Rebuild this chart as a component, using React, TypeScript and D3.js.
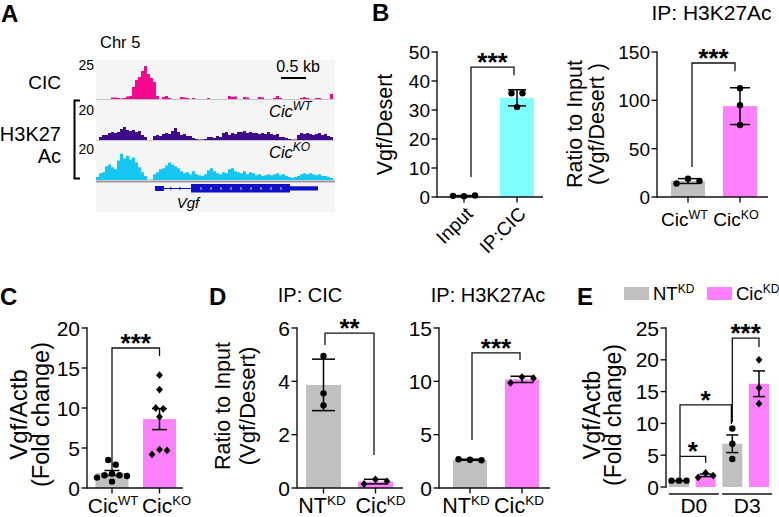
import React from 'react';
import * as d3 from 'd3';

const FONT = "'Liberation Sans', Arial, Helvetica, sans-serif";

// ---------------- Panel A data (genome browser tracks) ----------------
const trackBinKb = 0.06;
const trackSpanKb = 4.74;
const cicTrackMax = 25;
const acTrackMax = 20;
const cicTrack = [
  0, 0, 0, 0, 0, 1.0, 1.0, 0.6, 0.3, 0.6,
  1.6, 1.9, 7.7, 12.2, 14.1, 17.9, 21.1, 16.0, 13.4, 10.9,
  1.9, 0, 1.3, 1.9, 0.6, 0, 0, 0, 1.3, 1.0,
  0.6, 0, 0.6, 0, 0, 0, 0, 0.6, 0, 0,
  0, 0, 0, 0, 1.9, 1.3, 1.6, 0, 0, 1.3,
  1.0, 0, 0, 0, 1.3, 1.0, 0, 0, 0, 0.6,
  1.9, 0.6, 0, 0, 0, 0, 0, 0, 0.6, 1.3,
  0.6, 0, 0, 0.6, 0.6, 0, 0, 0, 3.2,
];
const wtTrack = [
  0, 1.5, 2.5, 2.5, 3.5, 4, 3.5, 4, 5.5, 6.5,
  5, 4.5, 5, 4, 4.5, 2.5, 1.5, 0, 0, 2,
  2.5, 2, 3, 3.5, 3, 4.5, 6, 4, 2.5, 3,
  2, 2, 1, 0.5, 0.3, 0.3, 0.5, 1.5, 1.5, 1,
  2, 1.5, 3.5, 4, 2.5, 3.5, 3, 4, 4, 4.5,
  3.5, 4, 3.5, 3.5, 3, 3.5, 3, 4, 3, 2.5,
  3, 1.5, 1.5, 1, 0.5, 0.3, 0.3, 2.5, 3.5, 3,
  3.5, 3, 2.5, 3, 3.5, 2.5, 3, 2, 1.5,
];
const koTrack = [
  1.5, 3.5, 4, 7, 8, 6.5, 5.5, 10, 13.5, 11,
  12.5, 10.5, 11.5, 9, 6.5, 4, 2, 0, 0.3, 3,
  4, 5.5, 6, 7.5, 9, 8, 7, 6, 4.5, 3.5,
  4, 3, 4.5, 3, 2.5, 2, 3, 5, 6, 4.5,
  3.5, 3, 4, 3.5, 5.5, 6, 4.5, 4, 3.5, 4.5,
  3, 4, 3.5, 2.5, 3, 2, 2.5, 3, 2.5, 3,
  3.5, 2.5, 3, 2, 1.5, 1, 1.5, 2, 3, 3.5,
  3, 3.5, 3, 2.5, 3, 2, 2, 1.5, 1,
];
const geneUtr5 = [1.18, 1.36];
const geneCds = [1.9, 3.88];
const geneUtr3 = [3.88, 4.44];
const scaleBarStartKb = 3.7;
const scaleBarKb = 0.5;

// ---------------- Panel B ----------------
const bInputCats = ['Input', 'IP:CIC'];
const bInputValues = [[0.3, 0.5, 0.4], [35.8, 35.8, 31.0]];
const bInputTicks = [0, 10, 20, 30, 40, 50];

const bAcCats = ['CicWT', 'CicKO'];
const bAcLabels: [string, string][] = [['Cic', 'WT'], ['Cic', 'KO']];
const bAcValues = [[19, 16.5, 14], [112.5, 95, 74.5]];
const bAcTicks = [0, 50, 100, 150];

// ---------------- Panel C ----------------
const cCats = ['CicWT', 'CicKO'];
const cLabels: [string, string][] = [['Cic', 'WT'], ['Cic', 'KO']];
const cValues = [
  [3.5, 2.9, 1.8, 1.6, 1.6, 1.5, 1.3, 0.8],
  [14.1, 12.3, 10.0, 9.9, 8.9, 4.8, 4.7, 4.2],
];
const cTicks = [0, 5, 10, 15, 20];

// ---------------- Panel D ----------------
const dCats = ['NTKD', 'CicKD'];
const dLabels: [string, string][] = [['NT', 'KD'], ['Cic', 'KD']];
const dCicValues = [[4.95, 3.55, 3.1], [0.32, 0.25, 0.15]];
const dCicTicks = [0, 2, 4, 6];
const dAcValues = [[2.65, 2.6, 2.7], [10.4, 10.3, 9.85]];
const dAcTicks = [0, 5, 10, 15];

// ---------------- Panel E ----------------
const eCats = ['NT-D0', 'Cic-D0', 'NT-D3', 'Cic-D3'];
const eGroups = ['D0', 'D3'];
const eValues = [[1, 1, 1], [2.2, 1.8, 1.5], [9.2, 6.8, 4.4], [20.0, 15.6, 13.1]];
const eTicks = [0, 5, 10, 15, 20, 25];
const eLegend: [string, string][] = [['NT', 'KD'], ['Cic', 'KD']];

const GRAY = '#c0c0c0';
const PINK = '#ff80ff';
const CYAN = '#80ffff';

type Sig = { a: number; b: number; top: number; fromA: number; fromB: number; label: string; dxA: number; dxB: number };
type Shape = 'circle' | 'diamond';
type PanelCfg = {
  cats: string[];
  values: number[][];
  labels?: [string, string][];
  ticks: number[];
  yMax: number;
  axisX: number;
  axisRight: number;
  yBottom: number;
  yTop: number;
  xCenters: [number, number];
  barW: number;
  colors: string[];
  shapes: Shape[];
  errType: 'sd' | 'sem';
  capW: number;
  spacing: number;
  sigs: Sig[];
  tickFont: number;
  labelFont: number;
  supFont: number;
  supDy: number;
  labelY: number;
  labelDx: number[];
  xAxis: boolean;
  rotatedLabels?: boolean;
};

const R = 3.2;

function swarm(vals: number[], y: (v: number) => number, s: number) {
  const placed: { py: number; dx: number }[] = [];
  const cands = [0];
  for (let i = 1; i < 12; i++) cands.push(i * s, -i * s);
  vals.forEach((v) => {
    const py = y(v);
    for (const dx of cands) {
      if (placed.every((q) => Math.abs(q.py - py) >= 2 * R || Math.abs(q.dx - dx) >= s * 0.99)) {
        placed.push({ py, dx });
        break;
      }
    }
  });
  const n = placed.length;
  const comp = new Array(n).fill(-1);
  let c = 0;
  for (let i = 0; i < n; i++) {
    if (comp[i] >= 0) continue;
    const st = [i];
    comp[i] = c;
    while (st.length) {
      const j = st.pop()!;
      for (let k = 0; k < n; k++) {
        if (comp[k] < 0 && Math.abs(placed[k].py - placed[j].py) < 2 * R) {
          comp[k] = c;
          st.push(k);
        }
      }
    }
    c++;
  }
  for (let ci = 0; ci < c; ci++) {
    const idx = placed.map((_, i) => i).filter((i) => comp[i] === ci);
    const m = d3.mean(idx, (i) => placed[i].dx) || 0;
    idx.forEach((i) => (placed[i].dx -= m));
  }
  return placed;
}

function Marker({ x, y, shape }: { x: number; y: number; shape: Shape }) {
  if (shape === 'circle') return <circle cx={x} cy={y} r={R} fill="#000" />;
  const h = 3.9, w = 3.4;
  return <path d={`M${x},${y - h}L${x + w},${y}L${x},${y + h}L${x - w},${y}Z`} fill="#000" />;
}

function SupLabel({ x, y, base, sup, fs, sfs, sdy }: { x: number; y: number; base: string; sup: string; fs: number; sfs: number; sdy: number }) {
  return (
    <text x={x} y={y} textAnchor="middle" fontSize={fs} fontFamily={FONT}>
      {base}
      <tspan dy={-sdy} fontSize={sfs}>{sup}</tspan>
    </text>
  );
}

function YLabel({ lines, cy }: { lines: { t: string; x: number; fs: number }[]; cy: number }) {
  return (
    <g>
      {lines.map((l, i) => (
        <text key={i} transform={`translate(${l.x},${cy}) rotate(-90)`} textAnchor="middle" fontSize={l.fs} fontFamily={FONT}>
          {l.t}
        </text>
      ))}
    </g>
  );
}

function BarPanel({ cfg }: { cfg: PanelCfg }) {
  const y = d3.scaleLinear().domain([0, cfg.yMax]).range([cfg.yBottom, cfg.yTop]);
  const x = d3.scalePoint<string>().domain(cfg.cats).range(cfg.xCenters);
  const stats = cfg.values.map((vs) => {
    const m = d3.mean(vs) || 0;
    const sd = vs.length > 1 ? d3.deviation(vs) || 0 : 0;
    const e = cfg.errType === 'sd' ? sd : sd / Math.sqrt(vs.length);
    return { m, e };
  });
  const sw = 1.4;
  return (
    <g fontFamily={FONT}>
      {cfg.cats.map((c, i) => {
        const cx = x(c)!;
        const top = y(stats[i].m);
        return <rect key={'b' + i} x={cx - cfg.barW / 2} y={top} width={cfg.barW} height={cfg.yBottom - top} fill={cfg.colors[i]} />;
      })}
      <line x1={cfg.axisX} x2={cfg.axisX} y1={cfg.yTop - 0.7} y2={cfg.yBottom + 0.7} stroke="#111" strokeWidth={sw} />
      {cfg.ticks.map((t) => (
        <g key={'t' + t}>
          <line x1={cfg.axisX - 5.5} x2={cfg.axisX} y1={y(t)} y2={y(t)} stroke="#111" strokeWidth={sw} />
          <text x={cfg.axisX - 7} y={y(t)} dy="0.36em" textAnchor="end" fontSize={cfg.tickFont}>
            {t}
          </text>
        </g>
      ))}
      {cfg.xAxis && (
        <g>
          <line x1={cfg.axisX} x2={cfg.axisRight} y1={cfg.yBottom} y2={cfg.yBottom} stroke="#111" strokeWidth={sw} />
          {cfg.cats.map((c) => (
            <line key={'xt' + c} x1={x(c)!} x2={x(c)!} y1={cfg.yBottom} y2={cfg.yBottom + 5.5} stroke="#111" strokeWidth={sw} />
          ))}
        </g>
      )}
      {cfg.cats.map((c, i) => {
        const cx = x(c)!;
        const pts = swarm(cfg.values[i], y, cfg.spacing);
        return (
          <g key={'p' + i}>
            {pts.map((p, k) => (
              <Marker key={k} x={cx + p.dx} y={p.py} shape={cfg.shapes[i]} />
            ))}
          </g>
        );
      })}
      {cfg.cats.map((c, i) => {
        const cx = x(c)!;
        const { m, e } = stats[i];
        const y1 = y(m + e), y2 = y(m - e);
        return (
          <g key={'e' + i} stroke="#000" strokeWidth={1.5}>
            <line x1={cx} x2={cx} y1={y1} y2={y2} />
            <line x1={cx - cfg.capW / 2} x2={cx + cfg.capW / 2} y1={y1} y2={y1} />
            <line x1={cx - cfg.capW / 2} x2={cx + cfg.capW / 2} y1={y2} y2={y2} />
          </g>
        );
      })}
      {cfg.sigs.map((s, i) => {
        const xa = x(cfg.cats[s.a])! + s.dxA;
        const xb = x(cfg.cats[s.b])! + s.dxB;
        return (
          <g key={'s' + i}>
            <path d={`M${xa},${y(s.fromA)}V${y(s.top)}H${xb}V${y(s.fromB)}`} fill="none" stroke="#111" strokeWidth={1.3} />
            <text x={(xa + xb) / 2} y={y(s.top) + 4} textAnchor="middle" fontSize={26} fontWeight="bold">
              {s.label}
            </text>
          </g>
        );
      })}
      {cfg.labels &&
        cfg.labels.map((l, i) => (
          <SupLabel key={'l' + i} x={x(cfg.cats[i])! + cfg.labelDx[i]} y={cfg.labelY} base={l[0]} sup={l[1]} fs={cfg.labelFont} sfs={cfg.supFont} sdy={cfg.supDy} />
        ))}
      {cfg.rotatedLabels &&
        cfg.cats.map((c) => (
          <text key={'r' + c} transform={`translate(${x(c)! + 10},${cfg.yBottom + 18}) rotate(-45)`} textAnchor="end" fontSize={cfg.labelFont}>
            {c}
          </text>
        ))}
    </g>
  );
}

function PanelA() {
  const x = d3.scaleLinear().domain([0, trackSpanKb]).range([96, 333]);
  const yCic = d3.scaleLinear().domain([0, cicTrackMax]).range([99, 60]);
  const yWt = d3.scaleLinear().domain([0, acTrackMax]).range([140, 100]);
  const yKo = d3.scaleLinear().domain([0, acTrackMax]).range([180, 141]);
  const area = (vals: number[], ys: d3.ScaleLinear<number, number>) => {
    const pts: [number, number][] = vals.map((v, i) => [i * trackBinKb, v]);
    pts.push([vals.length * trackBinKb, vals[vals.length - 1]]);
    return (
      d3
        .area<[number, number]>()
        .x((d) => x(d[0]))
        .y0(ys(0))
        .y1((d) => ys(d[1]))
        .curve(d3.curveStepAfter)(pts) || ''
    );
  };
  const geneY = 188.5;
  const cdsTicks = d3.range(geneCds[0] + 0.2, geneCds[1] - 0.05, 0.2);
  const intronTicks = d3.range(geneUtr5[1] + 0.15, geneCds[0] - 0.05, 0.18);
  return (
    <g fontFamily={FONT}>
      <rect x={96} y={60} width={239} height={152} fill="#f5f5f5" />
      <path d={area(cicTrack, yCic)} fill="#f7078d" />
      <path d={area(wtTrack, yWt)} fill="#3c0c8c" />
      <path d={area(koTrack, yKo)} fill="#16c6f2" />
      <line x1={96} x2={335} y1={99.5} y2={99.5} stroke="#c4c4c4" strokeWidth={1} />
      <line x1={96} x2={335} y1={140.5} y2={140.5} stroke="#c4c4c4" strokeWidth={1} />
      <line x1={96} x2={335} y1={181.5} y2={181.5} stroke="#9a9a9a" strokeWidth={2} />
      <line x1={x(geneUtr5[0])} x2={x(geneCds[0])} y1={geneY} y2={geneY} stroke="#1010c8" strokeWidth={1} />
      {intronTicks.map((k, i) => (
        <path key={'it' + i} d={`M${x(k) - 1.5},${geneY - 1.8}L${x(k) + 0.5},${geneY}L${x(k) - 1.5},${geneY + 1.8}`} fill="none" stroke="#1010c8" strokeWidth={0.8} />
      ))}
      <rect x={x(geneUtr5[0])} y={geneY - 2.5} width={x(geneUtr5[1]) - x(geneUtr5[0])} height={5} fill="#1010c8" />
      <rect x={x(geneCds[0])} y={geneY - 4.5} width={x(geneCds[1]) - x(geneCds[0])} height={8.5} fill="#1010c8" />
      <rect x={x(geneUtr3[0])} y={geneY - 2.2} width={x(geneUtr3[1]) - x(geneUtr3[0])} height={4.2} fill="#1010c8" />
      {cdsTicks.map((k, i) => (
        <line key={'ct' + i} x1={x(k)} x2={x(k)} y1={geneY - 1.2} y2={geneY + 1.2} stroke="#fff" strokeWidth={1} />
      ))}
      <text x={188} y={208} textAnchor="middle" fontSize={15} fontStyle="italic">
        Vgf
      </text>
      <line x1={x(scaleBarStartKb)} x2={x(scaleBarStartKb + scaleBarKb)} y1={78} y2={78} stroke="#000" strokeWidth={2} />
      <text x={298} y={72} textAnchor="middle" fontSize={16}>
        0.5 kb
      </text>
      <text x={100} y={48} fontSize={16.5}>
        Chr 5
      </text>
      <text x={94} y={70} textAnchor="end" fontSize={14}>
        {cicTrackMax}
      </text>
      <text x={94} y={115} textAnchor="end" fontSize={14}>
        {acTrackMax}
      </text>
      <text x={94} y={154} textAnchor="end" fontSize={14}>
        {acTrackMax}
      </text>
      <text x={61} y={89} textAnchor="end" fontSize={19}>
        CIC
      </text>
      <text x={61} y={141} textAnchor="end" fontSize={20}>
        H3K27
      </text>
      <text x={61} y={163} textAnchor="end" fontSize={20}>
        Ac
      </text>
      <path d="M80,100.5H74.5V178.5H80" fill="none" stroke="#000" strokeWidth={2} />
      <text x={269} y={117} fontSize={16.5} fontStyle="italic">
        Cic<tspan dy={-7} fontSize={12}>WT</tspan>
      </text>
      <text x={269} y={158} fontSize={16.5} fontStyle="italic">
        Cic<tspan dy={-7} fontSize={12}>KO</tspan>
      </text>
    </g>
  );
}

const cfgB1: PanelCfg = {
  cats: bInputCats, values: bInputValues, ticks: bInputTicks, yMax: 50,
  axisX: 437, axisRight: 543, yBottom: 197, yTop: 52, xCenters: [464, 517], barW: 34,
  colors: [GRAY, CYAN], shapes: ['circle', 'circle'], errType: 'sd', capW: 18, spacing: 11,
  sigs: [{ a: 0, b: 1, top: 44.8, fromA: 6.9, fromB: 42.0, label: '***', dxA: 7, dxB: -3 }],
  tickFont: 19, labelFont: 19, supFont: 12, supDy: 7, labelY: 226, labelDx: [0, 0], xAxis: true, rotatedLabels: true,
};
const cfgB2: PanelCfg = {
  cats: bAcCats, values: bAcValues, labels: bAcLabels, ticks: bAcTicks, yMax: 150,
  axisX: 657, axisRight: 768, yBottom: 197, yTop: 52, xCenters: [688, 740], barW: 34,
  colors: [GRAY, PINK], shapes: ['circle', 'circle'], errType: 'sd', capW: 20, spacing: 11.5,
  sigs: [{ a: 0, b: 1, top: 138.6, fromA: 31, fromB: 130, label: '***', dxA: 4, dxB: -5 }],
  tickFont: 19, labelFont: 19, supFont: 12.5, supDy: 7, labelY: 226, labelDx: [-3.5, -4], xAxis: true,
};
const cfgC: PanelCfg = {
  cats: cCats, values: cValues, labels: cLabels, ticks: cTicks, yMax: 20,
  axisX: 87, axisRight: 183, yBottom: 488, yTop: 328, xCenters: [112, 159.5], barW: 33,
  colors: [GRAY, PINK], shapes: ['circle', 'diamond'], errType: 'sem', capW: 15, spacing: 7.5,
  sigs: [{ a: 0, b: 1, top: 17.5, fromA: 2.25, fromB: 16.5, label: '***', dxA: 0, dxB: 0 }],
  tickFont: 21, labelFont: 21, supFont: 13, supDy: 8, labelY: 512.5, labelDx: [1, 7], xAxis: true,
};
const cfgD1: PanelCfg = {
  cats: dCats, values: dCicValues, labels: dLabels, ticks: dCicTicks, yMax: 6,
  axisX: 297, axisRight: 403, yBottom: 488, yTop: 328, xCenters: [323.5, 375.5], barW: 35,
  colors: [GRAY, PINK], shapes: ['circle', 'diamond'], errType: 'sd', capW: 23, spacing: 11.5,
  sigs: [{ a: 0, b: 1, top: 5.81, fromA: 5.36, fromB: 1.24, label: '**', dxA: 1.5, dxB: -1.5 }],
  tickFont: 21, labelFont: 21.5, supFont: 13.5, supDy: 8, labelY: 512.5, labelDx: [-1.5, 5], xAxis: true,
};
const cfgD2: PanelCfg = {
  cats: dCats, values: dAcValues, labels: dLabels, ticks: dAcTicks, yMax: 15,
  axisX: 439, axisRight: 550, yBottom: 488, yTop: 328, xCenters: [470, 522], barW: 34,
  colors: [GRAY, PINK], shapes: ['circle', 'diamond'], errType: 'sd', capW: 23, spacing: 11.5,
  sigs: [{ a: 0, b: 1, top: 12.66, fromA: 4.5, fromB: 12.0, label: '***', dxA: 2, dxB: -2 }],
  tickFont: 21, labelFont: 21.5, supFont: 13.5, supDy: 8, labelY: 512.5, labelDx: [-4, -3], xAxis: true,
};
const cfgE: PanelCfg = {
  cats: eCats, values: eValues, ticks: eTicks, yMax: 25,
  axisX: 666, axisRight: 772, yBottom: 487, yTop: 328, xCenters: [679, 759], barW: 20,
  colors: [GRAY, PINK, GRAY, PINK], shapes: ['circle', 'diamond', 'circle', 'diamond'], errType: 'sem', capW: 12, spacing: 7.5,
  sigs: [
    { a: 0, b: 1, top: 4.8, fromA: 1.4, fromB: 3.8, label: '*', dxA: 1, dxB: 0 },
    { a: 0, b: 2, top: 12.9, fromA: 4.8, fromB: 9.9, label: '*', dxA: 1, dxB: -1 },
    { a: 2, b: 3, top: 23.4, fromA: 10.2, fromB: 22.0, label: '***', dxA: 0, dxB: 0 },
  ],
  tickFont: 21, labelFont: 21, supFont: 13, supDy: 7, labelY: 512.5, labelDx: [0, 0, 0, 0], xAxis: false,
};

function PanelELegendAndGroups() {
  const x = d3.scalePoint<string>().domain(eCats).range(cfgE.xCenters);
  const groups = eGroups.map((g, gi) => {
    const c = (x(eCats[gi * 2])! + x(eCats[gi * 2 + 1])!) / 2 + 1.5;
    return { g, c };
  });
  return (
    <g fontFamily={FONT}>
      {groups.map(({ g, c }) => (
        <g key={g}>
          <line x1={c - 25} x2={c + 25} y1={494} y2={494} stroke="#111" strokeWidth={1.4} />
          <text x={c} y={512.5} textAnchor="middle" fontSize={21}>
            {g}
          </text>
        </g>
      ))}
      {eLegend.map((l, i) => (
        <g key={'lg' + i}>
          <rect x={624 + i * 83} y={287} width={25} height={13} fill={i === 0 ? GRAY : PINK} />
          <text x={653 + i * 83} y={300} fontSize={18.5}>
            {l[0]}
            <tspan dy={-7} fontSize={12}>{l[1]}</tspan>
          </text>
        </g>
      ))}
    </g>
  );
}

export default function App() {
  return (
    <svg width={779} height={517} style={{ position: 'absolute', left: 0, top: 0, display: 'block' }} fontFamily={FONT}>
      <rect width={779} height={517} fill="#fff" />
      <g fontWeight="bold" fontSize={24}>
        <text x={1} y={22}>A</text>
        <text x={372} y={21}>B</text>
        <text x={0} y={305}>C</text>
        <text x={209} y={305}>D</text>
        <text x={577} y={305}>E</text>
      </g>
      <PanelA />
      <BarPanel cfg={cfgB1} />
      <YLabel lines={[{ t: 'Vgf/Desert', x: 392, fs: 21.5 }]} cy={124.5} />
      <text x={711.5} y={20} textAnchor="middle" fontSize={21}>IP: H3K27Ac</text>
      <BarPanel cfg={cfgB2} />
      <YLabel lines={[{ t: 'Ratio to Input', x: 582, fs: 21.5 }, { t: '(Vgf/Desert )', x: 604, fs: 21.5 }]} cy={124} />
      <BarPanel cfg={cfgC} />
      <YLabel lines={[{ t: 'Vgf/Actb', x: 27, fs: 24 }, { t: '(Fold change)', x: 49, fs: 23.5 }]} cy={414.5} />
      <text x={310} y={302} textAnchor="middle" fontSize={20}>IP: CIC</text>
      <BarPanel cfg={cfgD1} />
      <YLabel lines={[{ t: 'Ratio to Input', x: 230, fs: 21.5 }, { t: '(Vgf/Desert)', x: 255, fs: 22 }]} cy={406} />
      <text x={488} y={302} textAnchor="middle" fontSize={20}>IP: H3K27Ac</text>
      <BarPanel cfg={cfgD2} />
      <BarPanel cfg={cfgE} />
      <PanelELegendAndGroups />
      <YLabel lines={[{ t: 'Vgf/Actb', x: 600, fs: 23.5 }, { t: '(Fold change)', x: 621, fs: 23 }]} cy={415} />
    </svg>
  );
}
